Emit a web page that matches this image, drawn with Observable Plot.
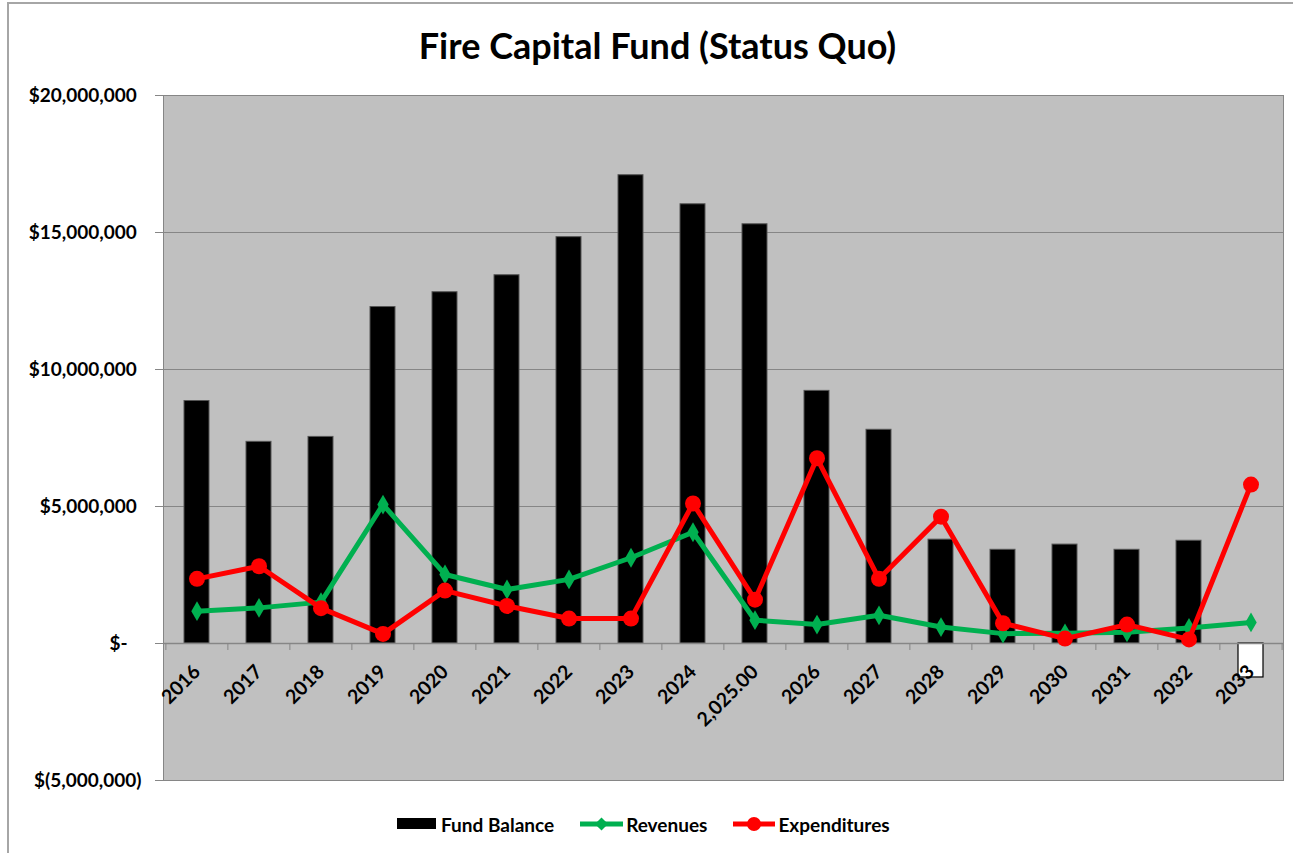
<!DOCTYPE html>
<html>
<head>
<meta charset="utf-8">
<script src="https://cdn.jsdelivr.net/npm/d3@7"></script>
<script src="https://cdn.jsdelivr.net/npm/@observablehq/plot@0.6"></script>
<style>
  html, body { margin: 0; padding: 0; background: #fff; }
  body { width: 1293px; height: 853px; position: relative; overflow: hidden; font-family: Lato, "Open Sans", sans-serif; }
  #border { position: absolute; left: 7px; top: 2px; width: 1300px; height: 900px; border-left: 2px solid #a6a6a6; border-top: 2px solid #a6a6a6; }
  #title { position: absolute; left: 0; top: 24px; width: 1315px; text-align: center; font-size: 36px; font-weight: bold; line-height: 42px; color: #000; }
  #chart { position: absolute; left: 0; top: 80px; }
  #legend { position: absolute; left: 397px; top: 812px; height: 24px; display: flex; align-items: center; font-size: 19px; font-weight: bold; color: #000; white-space: nowrap; }
  #legend svg { display: block; }
  .item { display: flex; align-items: center; }
</style>
</head>
<body>
<div id="border"></div>
<div id="title">Fire Capital Fund (Status Quo)</div>
<div id="chart"></div>
<div id="legend"></div>
<script>
// Category labels (as shown on the x axis)
const years = ["2016","2017","2018","2019","2020","2021","2022","2023","2024","2,025.00","2026","2027","2028","2029","2030","2031","2032","2033"];
// Series values (dollars)
const fundBalance = [8850000, 7360000, 7540000, 12280000, 12820000, 13440000, 14830000, 17090000, 16030000, 15300000, 9220000, 7800000, 3790000, 3420000, 3610000, 3420000, 3750000, -1240000];
const revenues = [1180000, 1300000, 1510000, 5070000, 2520000, 1970000, 2340000, 3130000, 4060000, 850000, 690000, 1030000, 600000, 360000, 370000, 410000, 570000, 770000];
const expenditures = [2360000, 2820000, 1290000, 350000, 1930000, 1370000, 910000, 910000, 5110000, 1600000, 6760000, 2360000, 4630000, 740000, 180000, 690000, 150000, 5800000];
// Y axis ticks and labels
const yTicks = [-5000000, 0, 5000000, 10000000, 15000000, 20000000];
const yLabels = ["$(5,000,000)", "$-", "$5,000,000", "$10,000,000", "$15,000,000", "$20,000,000"];
const seriesNames = ["Fund Balance", "Revenues", "Expenditures"];
const colors = {fund: "#000000", rev: "#00B050", exp: "#FF0000"};

const data = years.map((y, i) => ({year: y, fund: fundBalance[i], rev: revenues[i], exp: expenditures[i]}));

const W = 1293, H = 730, mL = 163, mR = 10, mT = 15, mB = 30;
const step = (W - mL - mR) / years.length;
const pad = (v, i) => {
  const s = yLabels[i];
  if (yTicks[i] > 0) return s + "\u00a0";
  if (yTicks[i] === 0) return s + "\u00a0\u00a0\u00a0";
  return s;
};

const chart = Plot.plot({
  width: W, height: H,
  marginLeft: mL, marginRight: mR, marginTop: mT, marginBottom: mB,
  style: {background: "transparent", fontFamily: "Lato, 'Open Sans', sans-serif", overflow: "visible", color: "#000"},
  x: {type: "band", domain: years, paddingInner: 0.6, paddingOuter: 0.3, axis: null},
  y: {domain: [-5000000, 20000000], axis: null},
  marks: [
    Plot.frame({fill: "#C0C0C0", stroke: "#868686"}),
    Plot.ruleY(yTicks.filter(d => d !== 0), {stroke: "#868686", strokeWidth: 1}),
    Plot.axisY({ticks: yTicks, tickFormat: (d) => pad(d, yTicks.indexOf(d)), tickSize: 8, tickPadding: 14, fontSize: 19, fontWeight: "bold", stroke: "#868686", fill: "#000"}),
    Plot.barY(data, {filter: d => d.fund >= 0, x: "year", y: "fund", fill: colors.fund, stroke: "#555", strokeWidth: 1}),
    Plot.barY(data, {filter: d => d.fund < 0, x: "year", y: "fund", fill: "#ffffff", stroke: "#000", strokeWidth: 1.2}),
    Plot.ruleY([0], {stroke: "#868686", strokeWidth: 1.3}),
    Plot.ruleX(years, {x: d => d, y1: 0, y2: 0, insetBottom: -7, dx: -step / 2, stroke: "#868686"}),
    Plot.ruleX(years.slice(-1), {x: d => d, y1: 0, y2: 0, insetBottom: -7, dx: step / 2, stroke: "#868686"}),
    Plot.text(years, {x: d => d, y: 0, text: d => d, rotate: -45, textAnchor: "end", dy: 25, dx: 0, fontSize: 19.5, fontWeight: "bold", fill: "#000"}),
    Plot.line(data, {x: "year", y: "rev", stroke: colors.rev, strokeWidth: 5}),
    Plot.dot(data, {x: "year", y: "rev", symbol: "diamond", r: 6, fill: colors.rev}),
    Plot.line(data, {x: "year", y: "exp", stroke: colors.exp, strokeWidth: 5}),
    Plot.dot(data, {x: "year", y: "exp", r: 8, fill: colors.exp})
  ]
});
document.getElementById("chart").appendChild(chart);

// Legend
const legend = d3.select("#legend");
const i1 = legend.append("div").attr("class", "item");
const s1 = i1.append("svg").attr("width", 39).attr("height", 24);
s1.append("rect").attr("x", 0).attr("y", 6).attr("width", 39).attr("height", 11).attr("fill", colors.fund);
i1.append("span").style("margin-left", "5px").text(seriesNames[0]);

const i2 = legend.append("div").attr("class", "item").style("margin-left", "26px");
const s2 = i2.append("svg").attr("width", 43).attr("height", 24);
s2.append("line").attr("x1", 0).attr("x2", 43).attr("y1", 12).attr("y2", 12).attr("stroke", colors.rev).attr("stroke-width", 5).attr("stroke-linecap", "round");
s2.append("path").attr("d", d3.symbol(d3.symbolDiamond2, 110)()).attr("transform", "translate(21.5,12)").attr("fill", colors.rev);
i2.append("span").style("margin-left", "3px").text(seriesNames[1]);

const i3 = legend.append("div").attr("class", "item").style("margin-left", "26px");
const s3 = i3.append("svg").attr("width", 42).attr("height", 24);
s3.append("line").attr("x1", 0).attr("x2", 42).attr("y1", 12).attr("y2", 12).attr("stroke", colors.exp).attr("stroke-width", 5).attr("stroke-linecap", "round");
s3.append("circle").attr("cx", 21).attr("cy", 12).attr("r", 7).attr("fill", colors.exp);
i3.append("span").style("margin-left", "3px").text(seriesNames[2]);
</script>
</body>
</html>
